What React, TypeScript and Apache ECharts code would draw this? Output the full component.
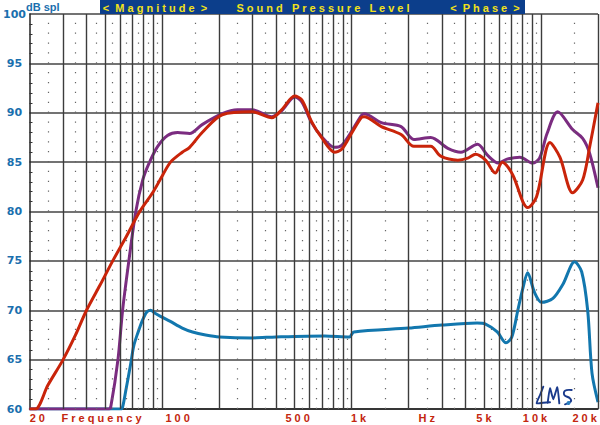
import React, { useEffect, useRef } from "react";
import * as echarts from "echarts";

// [frequency Hz, dB SPL]
const blueCurve: [number, number][] = [
  [20, 60], [58, 60], [60.5, 60], [62, 60.2], [64.5, 61.9], [68.6, 64.7], [71, 66.4], [74.6, 67.7], [79, 69.0],
  [83, 69.8], [87, 70.0], [92, 69.7], [100, 69.3], [110, 68.9], [128, 68.2], [145, 67.8],
  [170, 67.5], [201, 67.3], [300, 67.2], [400, 67.3], [722, 67.4], [975, 67.3], [1030, 67.8],
  [2000, 68.2], [3000, 68.5], [4600, 68.7], [5100, 68.6], [5880, 67.8], [6540, 66.7],
  [7020, 67.3], [7550, 70.0], [8020, 72.2], [8510, 73.8], [9250, 71.8], [10070, 70.8],
  [11570, 71.2], [13040, 72.6], [15050, 74.9], [16400, 73.9], [17640, 70.0], [18600, 63.6],
  [20000, 60.7],
];

const purpleCurve: [number, number][] = [
  [20, 60], [50, 60], [52.5, 60], [53.8, 60.3], [58.6, 65], [62, 70], [66.9, 75], [72.8, 80], [79.2, 83.2], [86, 85.0],
  [95, 86.6], [107, 87.7], [121, 88.0], [140, 87.9], [163, 88.8], [208, 89.9], [250, 90.3],
  [300, 90.3], [380, 89.6], [428, 90.2], [502, 91.6], [547, 91.1], [616, 89.0], [695, 87.6],
  [815, 86.5], [888, 86.7], [1000, 88.1], [1127, 89.7], [1166, 89.9], [1438, 89.0],
  [1828, 88.6], [2134, 87.3], [2620, 87.5], [3228, 86.4], [3780, 86.0], [4630, 86.8],
  [5220, 85.7], [5960, 84.9], [6620, 85.3], [7740, 85.5], [9030, 84.9], [9830, 85.4],
  [10770, 87.9], [12260, 90.1], [14700, 88.3], [16600, 87.4], [18060, 85.9], [20000, 82.4],
];

const redCurve: [number, number][] = [
  [20, 60], [21.5, 60], [25, 62.4], [30.1, 65], [35, 67.5], [40, 70], [47, 72.5], [55, 75],
  [65, 77.5], [76.4, 80], [90, 82], [101, 83.7], [111, 85], [128, 86], [140, 86.5], [163, 88.0],
  [208, 89.8], [300, 90.1], [380, 89.5], [428, 90.3], [502, 91.7], [547, 91.3], [616, 89.1],
  [695, 87.5], [815, 86.0], [888, 86.3], [1000, 87.9], [1127, 89.5], [1166, 89.6],
  [1438, 88.6], [1828, 87.8], [2134, 86.6], [2620, 86.6], [2960, 85.6], [3640, 85.2],
  [4110, 85.4], [4520, 85.8], [5100, 85.2], [5740, 83.9], [6250, 85.0], [7100, 83.7],
  [8020, 81.0], [8510, 80.4], [9480, 81.5], [11160, 87.0], [12590, 85.5], [14700, 81.9],
  [16600, 83.2], [18060, 86.5], [20000, 91.0],
];

const gridMajorFreqs = [
  30, 40, 50, 60, 70, 80, 90, 100, 200, 300, 400, 500, 600, 700, 800, 900, 1000,
  2000, 3000, 4000, 5000, 6000, 7000, 8000, 9000, 10000, 20000,
];
const gridDotFreqs = [
  25, 35, 45, 55, 65, 75, 85, 95, 150, 250, 350, 450, 550, 650, 750, 850, 950,
  1500, 2500, 3500, 4500, 5500, 6500, 7500, 8500, 9500, 15000,
];

const xLabelTexts = ["2 0", "F r e q u e n c y", "1 0 0", "5 0 0", "1 k", "H z", "5 k", "1 0 k", "2 0 k"];
const xLabelFreqs = [22, 48, 121, 520, 1090, 2500, 5000, 9300, 17000];

const yMin = 60;
const yMax = 100;
const yStep = 5;

const BLUE_TXT = "#1a6fae";
const RED_TXT = "#c4260e";

export default function App() {
  const ref = useRef<HTMLDivElement>(null);

  useEffect(() => {
    if (!ref.current) return;
    const chart = echarts.init(ref.current, null, { renderer: "svg" });
    const curveBase = {
      type: "line",
      symbol: "none",
      smooth: 0.3,
    };
    chart.setOption({
      animation: false,
      backgroundColor: "#ffffff",
      grid: { left: 26, right: 2, top: 14, bottom: 16, containLabel: false },
      xAxis: {
        type: "log",
        logBase: 10,
        min: 20,
        max: 20000,
        axisLine: { show: true, lineStyle: { color: "#222", width: 1.5 } },
        axisTick: { show: false },
        axisLabel: { show: false },
        splitLine: { show: false },
        minorTick: { show: false },
      },
      yAxis: {
        type: "value",
        min: yMin,
        max: yMax,
        interval: yStep,
        axisLine: { show: true, lineStyle: { color: "#222", width: 1.5 } },
        axisTick: { show: false, inside: true },
        minorTick: { show: true, splitNumber: 5, length: 3, lineStyle: { color: "#333", width: 1 } },
        axisLabel: {
          color: BLUE_TXT,
          fontFamily: "DejaVu Sans",
          fontWeight: "bold",
          fontSize: 11,
          align: "center",
          margin: 15,
        },
        splitLine: { show: true, lineStyle: { color: "#444", width: 1.5 } },
      },
      series: [
        {
          type: "line",
          data: [[20, 60]],
          symbol: "none",
          lineStyle: { opacity: 0 },
          silent: true,
          z: 1,
          markLine: {
            silent: true,
            symbol: ["none", "none"],
            label: { show: false },
            animation: false,
            data: [
              ...gridMajorFreqs.map((f) => ({
                xAxis: f,
                lineStyle: { color: "#3c3c3c", width: 1.4, type: "solid" },
              })),
              ...gridDotFreqs.map((f) => ({
                xAxis: f,
                lineStyle: { color: "#666", width: 1.2, type: [1.2, 8.675] },
              })),
            ],
          },
        },
        { ...curveBase, name: "blue", data: blueCurve, z: 3, lineStyle: { color: "#1277ae", width: 3 } },
        { ...curveBase, name: "purple", data: purpleCurve, z: 4, lineStyle: { color: "#7b2c80", width: 3 } },
        { ...curveBase, name: "red", data: redCurve, z: 5, lineStyle: { color: "#c9240a", width: 3 } },
      ],
    });

    const px = (f: number) => chart.convertToPixel({ xAxisIndex: 0 }, f) as number;
    const labelY = chart.convertToPixel({ yAxisIndex: 0 }, yMin) as number;

    const bannerFont = "bold 11px 'Liberation Sans', Arial, sans-serif";
    const logoStyle = { stroke: "#1a3a8c", lineWidth: 1.9, fill: "none", lineCap: "round", lineJoin: "round" };
    chart.setOption({
      graphic: [
        {
          type: "text",
          x: 26,
          y: 7,
          style: {
            text: "dB spl",
            fill: BLUE_TXT,
            font: "bold 11px 'Liberation Sans', Arial, sans-serif",
            textAlign: "left",
            textVerticalAlign: "middle",
          },
        },
        {
          type: "rect",
          shape: { x: 100, y: 0, width: 425, height: 14 },
          style: { fill: "#0c3e8b" },
        },
        {
          type: "text",
          x: 155,
          y: 7.5,
          style: { text: "<  M a g n i t u d e  >", fill: "#f2e21a", font: bannerFont, textAlign: "center", textVerticalAlign: "middle" },
        },
        {
          type: "text",
          x: 323,
          y: 7.5,
          style: { text: "S o u n d   P r e s s u r e   L e v e l", fill: "#f2e21a", font: bannerFont, textAlign: "center", textVerticalAlign: "middle" },
        },
        {
          type: "text",
          x: 485,
          y: 7.5,
          style: { text: "<  P h a s e  >", fill: "#f2e21a", font: bannerFont, textAlign: "center", textVerticalAlign: "middle" },
        },
        ...xLabelTexts.map((t, i) => ({
          type: "text",
          x: px(xLabelFreqs[i]),
          y: labelY + 9,
          style: {
            text: t,
            fill: RED_TXT,
            font: "bold 11px 'Liberation Sans', Arial, sans-serif",
            textAlign: "center",
            textVerticalAlign: "middle",
          },
        })),
        {
          type: "polyline",
          shape: { points: [[543.3, 386.7], [540, 395], [536.7, 403.3], [543, 402.8], [550, 402.3]], smooth: 0.2 },
          style: logoStyle,
        },
        {
          type: "polyline",
          shape: { points: [[547.7, 402.7], [550, 388.3], [553.3, 399.3], [557.3, 387.3], [559.3, 403.3]], smooth: 0.15 },
          style: logoStyle,
        },
        {
          type: "polyline",
          shape: { points: [[571.7, 390], [565, 390.7], [564.3, 395], [570, 398.3], [570.7, 401.7], [565, 404.3]], smooth: 0.4 },
          style: logoStyle,
        },
        {
          type: "circle",
          shape: { cx: 568.5, cy: 403, r: 2 },
          style: { fill: "#2a80c0" },
        },
      ],
    });

    return () => chart.dispose();
  }, []);

  return (
    <div
      ref={ref}
      style={{ position: "fixed", left: 0, top: 0, width: 600, height: 425 }}
    />
  );
}
